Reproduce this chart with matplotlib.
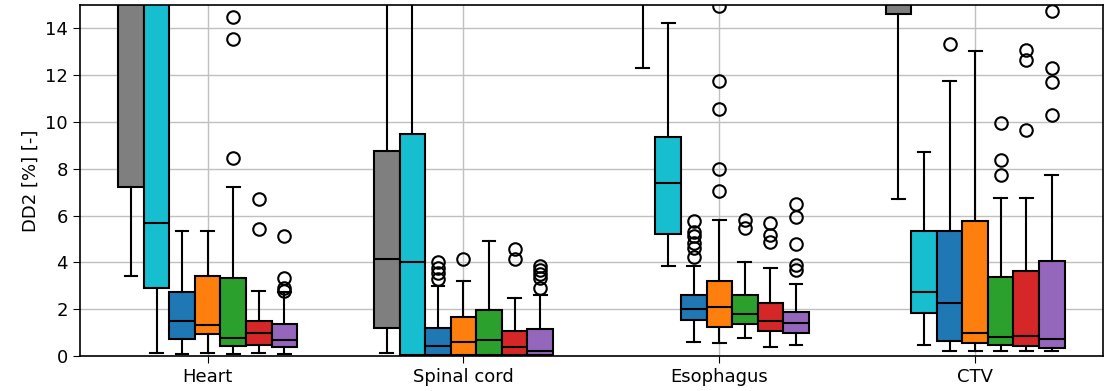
import numpy as np
import matplotlib
matplotlib.use("Agg")
import matplotlib.pyplot as plt

groups = ["Heart", "Spinal cord", "Esophagus", "CTV"]
colors = ["tab:gray", "tab:cyan", "tab:blue", "tab:orange", "tab:green", "tab:red", "tab:purple"]

# rows = series (one per colour), columns = groups
wlo = [[3.41, 0.14, 12.29, 6.70],
       [0.14, 0.00, 3.85, 0.46],
       [0.06, 0.00, 0.60, 0.20],
       [0.13, 0.00, 0.53, 0.20],
       [0.06, 0.00, 0.77, 0.20],
       [0.14, 0.00, 0.38, 0.20],
       [0.06, 0.00, 0.46, 0.20]]
q1 = [[7.20, 1.20, 16.0, 14.60],
      [2.91, 0.03, 5.20, 1.81],
      [0.70, 0.03, 1.55, 0.64],
      [0.93, 0.03, 1.23, 0.56],
      [0.43, 0.03, 1.35, 0.46],
      [0.46, 0.03, 1.07, 0.41],
      [0.38, 0.03, 0.96, 0.34]]
med = [[16.0, 4.16, 18.0, 16.0],
       [5.70, 4.02, 7.39, 2.71],
       [1.50, 0.44, 2.00, 2.24],
       [1.31, 0.61, 2.10, 0.98],
       [0.77, 0.68, 1.78, 0.81],
       [0.98, 0.38, 1.50, 0.84],
       [0.66, 0.21, 1.41, 0.74]]
q3 = [[18.0, 8.74, 20.0, 18.0],
      [18.0, 9.48, 9.34, 5.35],
      [2.72, 1.20, 2.59, 5.35],
      [3.41, 1.65, 3.21, 5.76],
      [3.32, 1.98, 2.61, 3.35],
      [1.51, 1.06, 2.24, 3.62],
      [1.35, 1.14, 1.88, 4.05]]
whi = [[25.0, 25.0, 25.0, 25.0],
       [25.0, 25.0, 14.24, 8.73],
       [5.32, 2.99, 3.84, 11.75],
       [5.32, 3.19, 5.80, 13.02],
       [7.20, 4.90, 4.01, 6.73],
       [2.78, 2.48, 3.76, 6.77],
       [2.75, 2.59, 3.09, 7.73]]
fliers = [[[], [], [], []],
          [[], [], [], []],
          [[], [3.30, 3.55, 3.75, 4.00], [4.23, 4.59, 4.83, 5.12, 5.30, 5.77], [13.35]],
          [[], [4.16], [7.06, 7.98, 10.55, 11.76, 14.96], []],
          [[8.45, 13.56, 14.49], [], [5.45, 5.80], [7.73, 8.37, 9.94]],
          [[5.42, 6.69], [4.12, 4.55], [4.85, 5.15, 5.66], [9.65, 12.67, 13.07]],
          [[2.78, 2.92, 3.34, 5.13], [2.88, 3.31, 3.52, 3.69, 3.85], [3.69, 3.88, 4.78, 5.95, 6.49], [10.29, 11.72, 12.29, 14.74]]]

fig = plt.figure(figsize=(11.08, 3.91), dpi=100)
ax = fig.add_axes([0.072, 0.090, 0.9235, 0.897])
ax.grid(True, color="#c0c0c0", linewidth=1.0, zorder=0)
ax.set_axisbelow(True)

width = 0.1
centers = np.arange(len(groups))
for s in range(len(colors)):
    stats = []
    for g in range(len(groups)):
        stats.append(dict(whislo=wlo[s][g], q1=q1[s][g], med=med[s][g], q3=q3[s][g],
                          whishi=whi[s][g], fliers=fliers[s][g]))
    pos = centers + (s - 3) * width
    ax.bxp(stats, positions=pos, widths=width, patch_artist=True, showfliers=True,
           boxprops=dict(facecolor=colors[s], edgecolor="black", linewidth=1.5),
           medianprops=dict(color="black", linewidth=1.5),
           whiskerprops=dict(color="black", linewidth=1.5),
           capprops=dict(color="black", linewidth=1.5),
           flierprops=dict(marker="o", markerfacecolor="none", markeredgecolor="black",
                           markersize=9, markeredgewidth=1.5),
           manage_ticks=False)

ax.set_xlim(-0.5, 3.5)
ax.set_ylim(0, 15)
ax.set_xticks(centers)
ax.set_xticklabels(groups)
ax.set_yticks(np.arange(0, 15, 2))
ax.tick_params(labelsize=13, length=5)
ax.set_ylabel("DD2 [%] [-]", fontsize=13)
for sp in ax.spines.values():
    sp.set_linewidth(1.2)

fig.savefig("out.png", dpi=100)
